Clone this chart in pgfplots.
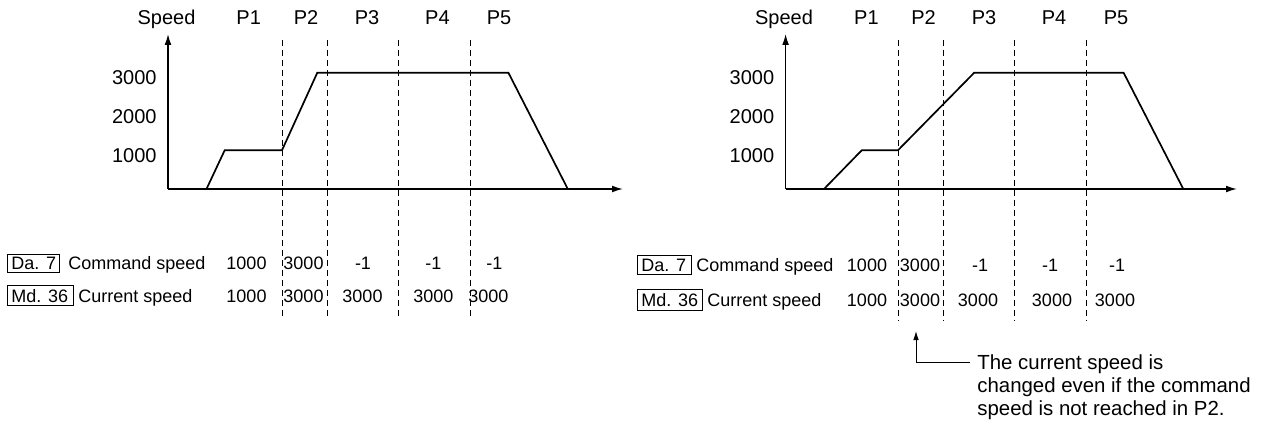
\documentclass[border=0pt]{standalone}
\usepackage{fontspec}
\setmainfont{Liberation Sans}
\usepackage{pgfplots}
\pgfplotsset{compat=1.18}
\usetikzlibrary{arrows.meta}

\newcommand{\fa}{\fontsize{10}{12}\selectfont}
\newcommand{\fb}{\fontsize{9}{11}\selectfont}
\newcommand{\fc}{\fontsize{10.2}{11.5}\selectfont}

\tikzset{divider/.style={line width=0.5pt, black, dash pattern=on 3pt off 2pt}}
\pgfplotsset{
  speedaxis/.style={
    x=0.5pt, y=0.019375pt,
    xmin=0, ymin=0, ymax=4000,
    axis lines=left,
    axis line style={line width=0.65pt, -{Latex[length=5.5pt,width=3.4pt]}},
    xtick=\empty,
    ytick={1000,2000,3000},
    yticklabels={1000,2000,\raisebox{-1.5pt}{3000}},
    major tick length=0pt,
    yticklabel style={font=\fa, anchor=east, inner sep=0pt, xshift=-5.5pt, yshift=-2.5pt},
    clip=false,
    anchor=south west,
  },
  speedline/.style={line width=0.85pt, mark=none, black},
}

\begin{document}
\begin{tikzpicture}
\begin{scope}[x=0.5pt,y=-0.5pt]
  \useasboundingbox (0,0) rectangle (1275,428);
\end{scope}

% ---------------- left diagram ----------------
\begin{axis}[speedaxis, at={(84pt,-94.5pt)}, xmax=455]
  \addplot[speedline] coordinates {(38.5,0) (56.7,1000) (114,1000) (149.3,3000) (340.4,3000) (399.8,0)};
  \draw[divider] (axis cs:114,3845) -- (axis cs:114,-3277);
  \draw[divider] (axis cs:159,3845) -- (axis cs:159,-3277);
  \draw[divider] (axis cs:230,3845) -- (axis cs:230,-3277);
  \draw[divider] (axis cs:302,3845) -- (axis cs:302,-3277);
\end{axis}

% ---------------- right diagram ----------------
\begin{axis}[speedaxis, at={(392.8pt,-94.5pt)}, xmax=451.4]
  \addplot[speedline] coordinates {(38.4,0) (76.2,1000) (112.4,1000) (188.6,3000) (338,3000) (397.7,0)};
  \draw[divider] (axis cs:112.4,3845) -- (axis cs:112.4,-3381);
  \draw[divider] (axis cs:157.4,3845) -- (axis cs:157.4,-3381);
  \draw[divider] (axis cs:228.4,3845) -- (axis cs:228.4,-3381);
  \draw[divider] (axis cs:300.4,3845) -- (axis cs:300.4,-3381);
\end{axis}

\begin{scope}[x=0.5pt,y=-0.5pt]
  % top labels
  \foreach \xx/\tt in {166.5/Speed, 248.7/P1, 306/P2, 367/P3, 437.4/P4, 499/P5,
                       784/Speed, 866.4/P1, 923.6/P2, 984/P3, 1054/P4, 1116/P5}
    \node[font=\fa, anchor=base, inner sep=0pt] at (\xx,25) {\tt};

  % left table
  \draw[line width=0.5pt] (7,254) rectangle (59,272);
  \draw[line width=0.5pt] (7,285) rectangle (73,305);
  \node[font=\fb, anchor=base west, inner sep=0pt] at (11,269) {Da. 7};
  \node[font=\fb, anchor=base west, inner sep=0pt] at (68,269) {Command speed};
  \node[font=\fb, anchor=base west, inner sep=0pt] at (11,302) {Md. 36};
  \node[font=\fb, anchor=base west, inner sep=0pt] at (78,302) {Current speed};
  \foreach \xx/\tt in {246.5/1000, 303.5/3000, 363/-1, 433.4/-1, 494.4/-1}
    \node[font=\fb, anchor=base, inner sep=0pt] at (\xx,269) {\tt};
  \foreach \xx/\tt in {246.5/1000, 303.5/3000, 362.5/3000, 433.4/3000, 488.3/3000}
    \node[font=\fb, anchor=base, inner sep=0pt] at (\xx,302) {\tt};

  % right table
  \draw[line width=0.5pt] (637,255) rectangle (691,274);
  \draw[line width=0.5pt] (637,289) rectangle (702,310);
  \node[font=\fb, anchor=base west, inner sep=0pt] at (641,271) {Da. 7};
  \node[font=\fb, anchor=base west, inner sep=0pt] at (696,271) {Command speed};
  \node[font=\fb, anchor=base west, inner sep=0pt] at (641,306) {Md. 36};
  \node[font=\fb, anchor=base west, inner sep=0pt] at (707,306) {Current speed};
  \foreach \xx/\tt in {867/1000, 920/3000, 980/-1, 1050/-1, 1117/-1}
    \node[font=\fb, anchor=base, inner sep=0pt] at (\xx,271) {\tt};
  \foreach \xx/\tt in {867/1000, 920/3000, 978/3000, 1052/3000, 1115/3000}
    \node[font=\fb, anchor=base, inner sep=0pt] at (\xx,306) {\tt};

  % annotation
  \draw[line width=0.5pt, -{Latex[length=4.5pt,width=2.8pt]}] (970,362) -- (916,362) -- (916,331);
  \node[font=\fc, anchor=base west, inner sep=0pt] at (977,369) {The current speed is};
  \node[font=\fc, anchor=base west, inner sep=0pt] at (977,392) {changed even if the command};
  \node[font=\fc, anchor=base west, inner sep=0pt] at (977,415) {speed is not reached in P2.};
\end{scope}
\end{tikzpicture}
\end{document}
